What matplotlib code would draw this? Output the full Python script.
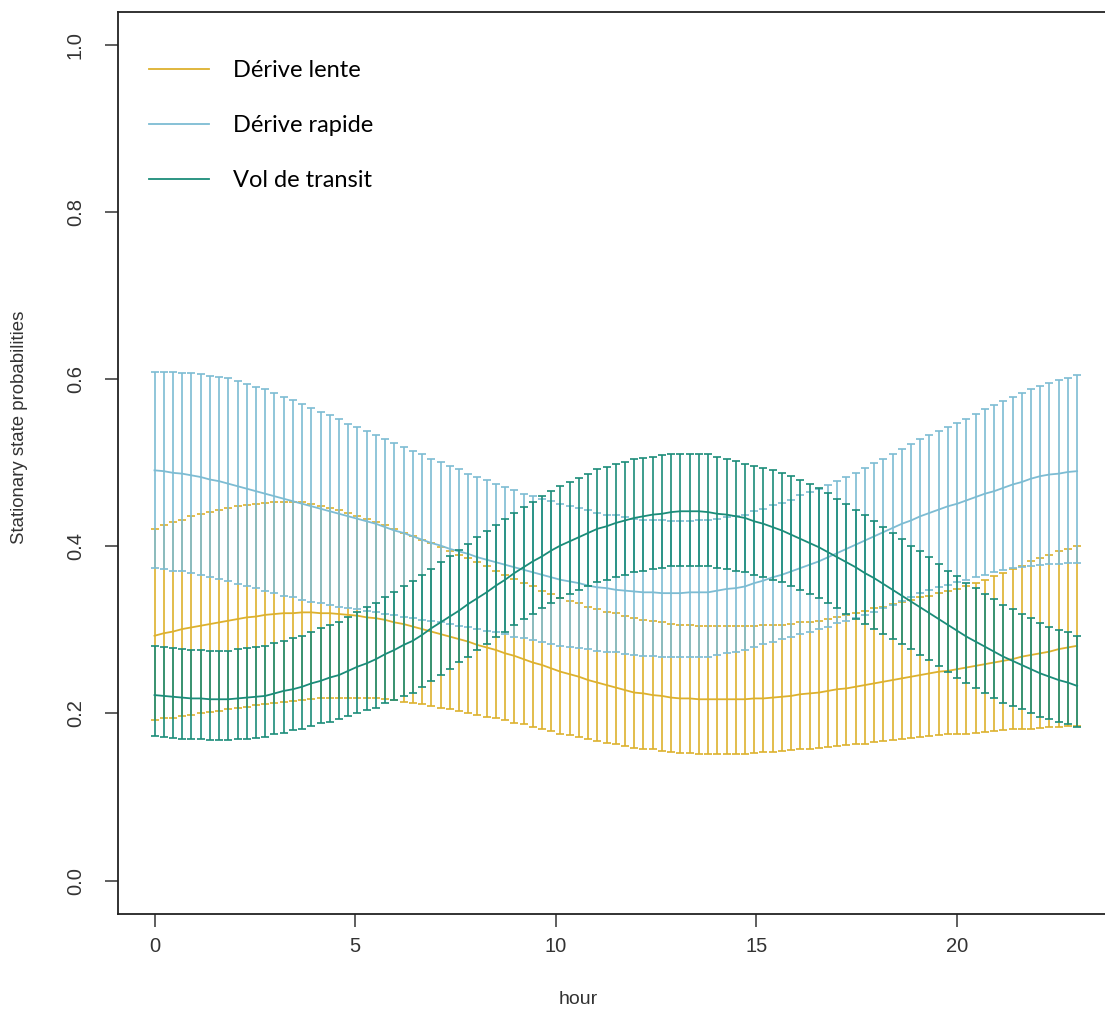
import numpy as np
import matplotlib
matplotlib.use('Agg')
import matplotlib.pyplot as plt
from matplotlib.lines import Line2D

# --- 1. Data (stationary probabilities + 95% CI) ---
# covariate grid: 101 hours between 0 and 23
hours = np.linspace(0, 23, 101)

state_names = ['Dérive lente', 'Dérive rapide', 'Vol de transit']
state_colors = ['#DDB12E', '#7DBCD3', '#1B8C79']

lente_mean = [0.293, 0.296, 0.298, 0.301, 0.303, 0.305, 0.307, 0.309,
              0.311, 0.313, 0.315, 0.316, 0.318, 0.319, 0.320, 0.320,
              0.321, 0.321, 0.320, 0.320, 0.319, 0.318, 0.317, 0.315,
              0.314, 0.312, 0.309, 0.307, 0.304, 0.301, 0.298, 0.295,
              0.292, 0.289, 0.286, 0.282, 0.279, 0.276, 0.272, 0.269,
              0.265, 0.261, 0.258, 0.254, 0.250, 0.247, 0.244, 0.240,
              0.237, 0.234, 0.231, 0.228, 0.225, 0.224, 0.222, 0.221,
              0.219, 0.218, 0.218, 0.217, 0.217, 0.217, 0.217, 0.217,
              0.217, 0.218, 0.218, 0.219, 0.220, 0.221, 0.223, 0.224,
              0.225, 0.227, 0.229, 0.230, 0.232, 0.234, 0.236, 0.238,
              0.240, 0.242, 0.244, 0.246, 0.248, 0.250, 0.251, 0.253,
              0.255, 0.257, 0.259, 0.261, 0.263, 0.265, 0.268, 0.270,
              0.272, 0.274, 0.277, 0.279, 0.281]
lente_upper = [0.421, 0.425, 0.429, 0.432, 0.436, 0.439, 0.441, 0.444,
               0.446, 0.448, 0.449, 0.451, 0.452, 0.453, 0.453, 0.453,
               0.453, 0.451, 0.448, 0.446, 0.443, 0.440, 0.436, 0.433,
               0.429, 0.425, 0.421, 0.416, 0.412, 0.408, 0.404, 0.399,
               0.395, 0.390, 0.386, 0.381, 0.376, 0.371, 0.366, 0.361,
               0.356, 0.352, 0.347, 0.343, 0.338, 0.335, 0.332, 0.328,
               0.325, 0.322, 0.320, 0.317, 0.314, 0.312, 0.311, 0.309,
               0.307, 0.306, 0.306, 0.305, 0.305, 0.305, 0.305, 0.305,
               0.305, 0.305, 0.306, 0.306, 0.306, 0.307, 0.309, 0.310,
               0.311, 0.313, 0.316, 0.318, 0.320, 0.323, 0.326, 0.328,
               0.331, 0.334, 0.336, 0.339, 0.341, 0.344, 0.347, 0.349,
               0.352, 0.356, 0.360, 0.364, 0.368, 0.373, 0.377, 0.382,
               0.386, 0.390, 0.394, 0.397, 0.401]
lente_lower = [0.192, 0.194, 0.195, 0.197, 0.198, 0.200, 0.202, 0.203,
               0.205, 0.207, 0.208, 0.210, 0.211, 0.212, 0.214, 0.215,
               0.216, 0.217, 0.218, 0.218, 0.219, 0.219, 0.219, 0.218,
               0.218, 0.217, 0.216, 0.214, 0.213, 0.211, 0.209, 0.207,
               0.205, 0.203, 0.200, 0.198, 0.196, 0.194, 0.192, 0.189,
               0.187, 0.184, 0.182, 0.179, 0.176, 0.174, 0.172, 0.169,
               0.167, 0.165, 0.163, 0.161, 0.159, 0.158, 0.157, 0.155,
               0.154, 0.153, 0.153, 0.152, 0.152, 0.152, 0.152, 0.152,
               0.152, 0.153, 0.154, 0.154, 0.155, 0.156, 0.157, 0.158,
               0.159, 0.160, 0.161, 0.162, 0.163, 0.164, 0.166, 0.167,
               0.168, 0.169, 0.171, 0.172, 0.173, 0.174, 0.175, 0.175,
               0.176, 0.177, 0.178, 0.179, 0.180, 0.181, 0.182, 0.182,
               0.183, 0.184, 0.184, 0.185, 0.185]

rapide_mean = [0.491, 0.490, 0.488, 0.487, 0.485, 0.483, 0.480, 0.478,
               0.475, 0.472, 0.469, 0.466, 0.463, 0.460, 0.457, 0.454,
               0.451, 0.448, 0.445, 0.442, 0.439, 0.436, 0.433, 0.430,
               0.427, 0.423, 0.419, 0.416, 0.412, 0.408, 0.404, 0.401,
               0.397, 0.394, 0.391, 0.387, 0.384, 0.381, 0.378, 0.375,
               0.372, 0.369, 0.366, 0.363, 0.360, 0.358, 0.356, 0.353,
               0.351, 0.350, 0.348, 0.347, 0.346, 0.345, 0.345, 0.344,
               0.344, 0.344, 0.345, 0.345, 0.345, 0.347, 0.349, 0.350,
               0.352, 0.356, 0.359, 0.363, 0.366, 0.370, 0.374, 0.378,
               0.382, 0.387, 0.392, 0.397, 0.402, 0.407, 0.412, 0.417,
               0.422, 0.427, 0.431, 0.436, 0.440, 0.444, 0.448, 0.451,
               0.455, 0.459, 0.463, 0.466, 0.470, 0.474, 0.477, 0.481,
               0.484, 0.486, 0.487, 0.489, 0.490]
rapide_upper = [0.609, 0.609, 0.609, 0.608, 0.608, 0.606, 0.604, 0.603,
                0.601, 0.598, 0.594, 0.591, 0.588, 0.584, 0.579, 0.575,
                0.570, 0.566, 0.561, 0.557, 0.552, 0.547, 0.543, 0.538,
                0.533, 0.528, 0.524, 0.519, 0.514, 0.510, 0.505, 0.501,
                0.496, 0.492, 0.487, 0.483, 0.479, 0.475, 0.471, 0.467,
                0.463, 0.460, 0.457, 0.454, 0.451, 0.448, 0.446, 0.443,
                0.440, 0.438, 0.437, 0.435, 0.433, 0.432, 0.432, 0.431,
                0.430, 0.430, 0.430, 0.431, 0.431, 0.433, 0.435, 0.436,
                0.438, 0.442, 0.445, 0.449, 0.452, 0.456, 0.461, 0.465,
                0.469, 0.474, 0.478, 0.483, 0.488, 0.494, 0.500, 0.505,
                0.511, 0.517, 0.522, 0.528, 0.533, 0.538, 0.543, 0.548,
                0.553, 0.558, 0.564, 0.569, 0.574, 0.579, 0.583, 0.588,
                0.592, 0.595, 0.599, 0.602, 0.605]
rapide_lower = [0.374, 0.373, 0.371, 0.370, 0.368, 0.366, 0.363, 0.361,
                0.358, 0.355, 0.352, 0.350, 0.347, 0.344, 0.341, 0.339,
                0.336, 0.334, 0.332, 0.330, 0.328, 0.326, 0.325, 0.323,
                0.321, 0.319, 0.318, 0.316, 0.314, 0.312, 0.311, 0.309,
                0.307, 0.305, 0.303, 0.301, 0.299, 0.297, 0.295, 0.292,
                0.290, 0.288, 0.286, 0.283, 0.281, 0.280, 0.278, 0.277,
                0.275, 0.274, 0.273, 0.271, 0.270, 0.269, 0.269, 0.268,
                0.267, 0.267, 0.267, 0.268, 0.268, 0.270, 0.272, 0.274,
                0.276, 0.279, 0.283, 0.286, 0.289, 0.292, 0.295, 0.298,
                0.301, 0.304, 0.308, 0.311, 0.314, 0.318, 0.322, 0.326,
                0.330, 0.335, 0.339, 0.344, 0.348, 0.351, 0.354, 0.357,
                0.360, 0.363, 0.366, 0.369, 0.372, 0.374, 0.375, 0.377,
                0.378, 0.379, 0.379, 0.380, 0.380]

transit_mean = [0.222, 0.221, 0.220, 0.219, 0.218, 0.218, 0.217, 0.217,
                0.217, 0.218, 0.219, 0.220, 0.221, 0.224, 0.227, 0.229,
                0.232, 0.236, 0.239, 0.243, 0.246, 0.251, 0.256, 0.260,
                0.265, 0.271, 0.276, 0.282, 0.287, 0.294, 0.302, 0.309,
                0.316, 0.323, 0.331, 0.338, 0.345, 0.353, 0.360, 0.368,
                0.375, 0.382, 0.388, 0.395, 0.401, 0.406, 0.411, 0.416,
                0.421, 0.424, 0.428, 0.431, 0.434, 0.436, 0.438, 0.439,
                0.441, 0.442, 0.442, 0.442, 0.441, 0.439, 0.438, 0.436,
                0.434, 0.430, 0.427, 0.423, 0.419, 0.414, 0.409, 0.404,
                0.399, 0.393, 0.387, 0.381, 0.375, 0.368, 0.362, 0.355,
                0.348, 0.341, 0.334, 0.327, 0.320, 0.313, 0.306, 0.299,
                0.292, 0.286, 0.280, 0.274, 0.268, 0.263, 0.258, 0.253,
                0.248, 0.244, 0.240, 0.237, 0.233]
transit_upper = [0.281, 0.280, 0.278, 0.277, 0.276, 0.276, 0.275, 0.275,
                 0.275, 0.277, 0.278, 0.280, 0.281, 0.284, 0.287, 0.290,
                 0.293, 0.297, 0.302, 0.306, 0.310, 0.316, 0.321, 0.327,
                 0.332, 0.339, 0.345, 0.352, 0.358, 0.366, 0.373, 0.381,
                 0.388, 0.396, 0.403, 0.411, 0.418, 0.425, 0.433, 0.440,
                 0.447, 0.453, 0.460, 0.466, 0.472, 0.477, 0.482, 0.487,
                 0.492, 0.495, 0.498, 0.501, 0.504, 0.506, 0.507, 0.509,
                 0.510, 0.511, 0.511, 0.511, 0.510, 0.507, 0.505, 0.502,
                 0.499, 0.496, 0.494, 0.491, 0.488, 0.484, 0.479, 0.475,
                 0.470, 0.464, 0.457, 0.451, 0.444, 0.437, 0.430, 0.423,
                 0.416, 0.409, 0.401, 0.394, 0.387, 0.379, 0.371, 0.364,
                 0.356, 0.350, 0.343, 0.337, 0.330, 0.325, 0.319, 0.314,
                 0.308, 0.304, 0.300, 0.297, 0.293]
transit_lower = [0.173, 0.172, 0.171, 0.170, 0.169, 0.169, 0.168, 0.168,
                 0.168, 0.169, 0.170, 0.171, 0.172, 0.175, 0.177, 0.180,
                 0.182, 0.185, 0.188, 0.190, 0.193, 0.197, 0.200, 0.204,
                 0.207, 0.212, 0.216, 0.221, 0.225, 0.232, 0.239, 0.246,
                 0.253, 0.261, 0.268, 0.276, 0.283, 0.291, 0.298, 0.306,
                 0.313, 0.319, 0.326, 0.332, 0.338, 0.343, 0.348, 0.352,
                 0.357, 0.360, 0.363, 0.366, 0.369, 0.371, 0.373, 0.374,
                 0.376, 0.377, 0.377, 0.377, 0.376, 0.374, 0.373, 0.371,
                 0.369, 0.366, 0.363, 0.360, 0.357, 0.352, 0.348, 0.343,
                 0.338, 0.332, 0.326, 0.319, 0.313, 0.307, 0.301, 0.295,
                 0.289, 0.283, 0.277, 0.270, 0.264, 0.257, 0.250, 0.243,
                 0.236, 0.230, 0.224, 0.219, 0.213, 0.209, 0.205, 0.200,
                 0.196, 0.193, 0.190, 0.187, 0.184]

series = [
    (lente_mean, lente_lower, lente_upper),
    (rapide_mean, rapide_lower, rapide_upper),
    (transit_mean, transit_lower, transit_upper),
]

x_ticks = [0, 5, 10, 15, 20]
y_ticks = [0.0, 0.2, 0.4, 0.6, 0.8, 1.0]
y_ticklabels = ['0.0', '0.2', '0.4', '0.6', '0.8', '1.0']

# --- 2. Figure (R-like base plot, right side cropped) ---
W, H = 1105, 1024
plt.rcParams['font.family'] = ['Liberation Sans', 'DejaVu Sans']
fig = plt.figure(figsize=(W / 100, H / 100), dpi=100)
ax = fig.add_axes([117.6 / W, (H - 914.0) / H, (1114 - 117.6) / W, 902.4 / H])

for (m, lo, up), col in zip(series, state_colors):
    m, lo, up = np.array(m), np.array(lo), np.array(up)
    ax.plot(hours, m, color=col, lw=1.3)
    ax.errorbar(hours, m, yerr=[m - lo, up - m], fmt='none', ecolor=col,
                elinewidth=1.2, capsize=2.8, capthick=1.2)

ax.set_xlim(-0.92, 23.92)
ax.set_ylim(-0.04, 1.04)
ax.set_xticks(x_ticks)
ax.set_yticks(y_ticks)
ax.set_yticklabels(y_ticklabels, rotation=90, va='center')
ax.tick_params(direction='out', length=9.5, width=1.1, labelsize=14.5,
               colors='#333333')
ax.tick_params(axis='y', pad=14)
ax.tick_params(axis='x', pad=7)
for sp in ax.spines.values():
    sp.set_linewidth(1.3)
    sp.set_color('#222222')

fig.text(20 / W, 1 - 427 / H, 'Stationary state probabilities', rotation=90,
         ha='center', va='center', fontsize=13.4, color='#333333')
fig.text(578 / W, 1 - 1000 / H, 'hour', ha='center', va='center',
         fontsize=14, color='#333333')

# --- 3. Legend ---
handles = [Line2D([], [], color=c, lw=1.3) for c in state_colors]
ax.legend(handles, state_names, loc='upper left',
          bbox_to_anchor=(128 / W, 1 - 39 / H), bbox_transform=fig.transFigure,
          frameon=False, handlelength=2.55, handletextpad=1.0,
          labelspacing=1.44, prop={'family': 'Lato', 'size': 17})

fig.savefig('out.png', dpi=100)
